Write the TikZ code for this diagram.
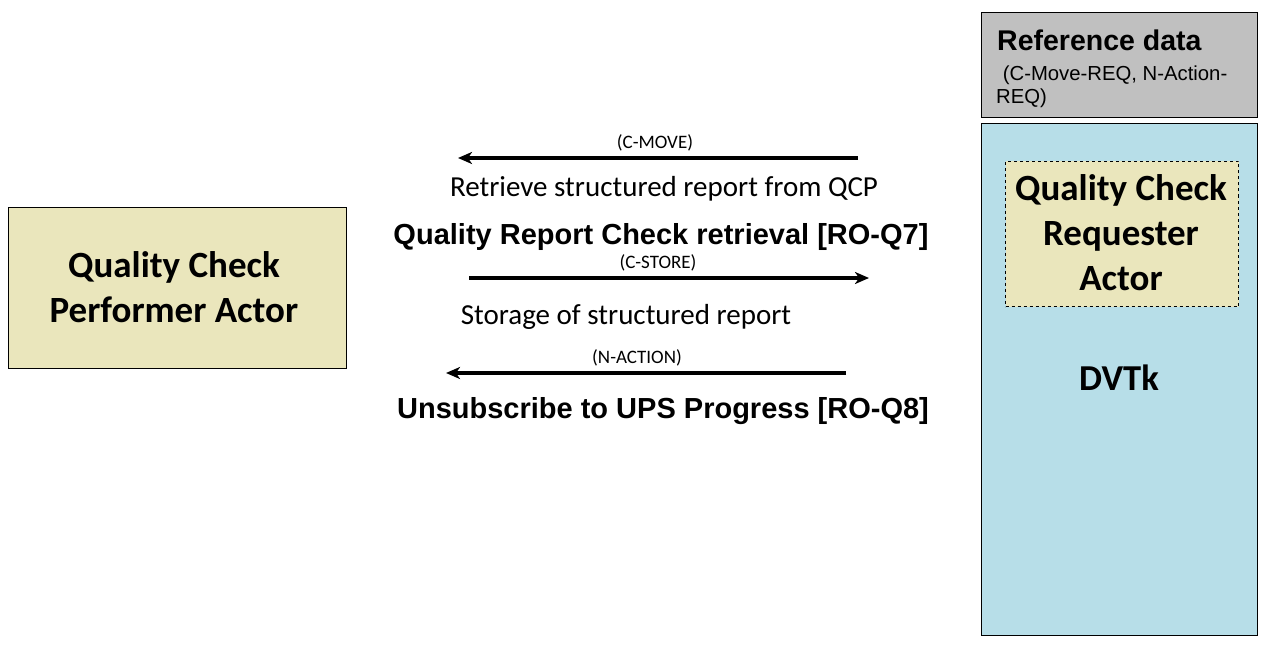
\documentclass[tikz,border=0pt]{standalone}
\usepackage{fontspec}
\setmainfont{Carlito}
\newfontfamily\arialf{Liberation Sans}
\usetikzlibrary{arrows.meta}
\definecolor{tanfill}{HTML}{EAE6BC}
\definecolor{grayfill}{HTML}{C0C0C0}
\definecolor{bluefill}{HTML}{B7DEE8}
\tikzset{
  actor/.style={draw=black, line width=1pt, fill=tanfill, align=center, inner sep=0pt},
  actortext/.style={font=\bfseries\fontsize{37}{45}\selectfont, align=center},
  msg/.style={line width=3.5pt, -{Stealth[length=14pt,width=12pt,inset=4pt]}},
  small/.style={font=\fontsize{19}{22}\selectfont},
  desc/.style={font=\fontsize{29}{32}\selectfont},
  title/.style={font=\arialf\bfseries\fontsize{29}{32}\selectfont},
}
\begin{document}
\begin{tikzpicture}[x=1pt,y=-1pt]
\useasboundingbox (0,0) rectangle (1268,647);
% right side
\node[draw=black, line width=1pt, fill=bluefill, minimum width=276pt, minimum height=512pt, inner sep=0pt, anchor=north west] (dvtk) at (981,123) {};
\node[draw=black, line width=1pt, fill=grayfill, minimum width=276pt, minimum height=105pt, inner sep=0pt, anchor=north west] (ref) at (981,12) {};
\node[anchor=west, inner sep=0pt, font=\arialf\bfseries\fontsize{28.5}{32}\selectfont] (reft) at (997,40) {Reference data};
\node[anchor=west, inner sep=0pt, font=\arialf\fontsize{20.3}{23}\selectfont] (refs1) at (997,75) {\ (C-Move-REQ, N-Action-};
\node[anchor=west, inner sep=0pt, font=\arialf\fontsize{20.3}{23}\selectfont] (refs2) at (996,98) {REQ)};
\node[actor, dashed, minimum width=233pt, minimum height=145pt, anchor=north west] (qcr) at (1005,161) {};
\node[actortext] (qcrt) at (1121,233) {Quality Check\\Requester\\Actor};
\node[font=\bfseries\fontsize{36.5}{40}\selectfont] (dvtkt) at (1119,378) {DVTk};
% left actor
\node[actor, minimum width=338pt, minimum height=161pt, anchor=north west] (qcp) at (8,207) {};
\node[actortext] (qcpt) at (174,287) {Quality Check\\Performer Actor};
% messages
\coordinate (a1s) at (858,158); \coordinate (a1e) at (458,158);
\coordinate (a2s) at (469,278); \coordinate (a2e) at (869,278);
\coordinate (a3s) at (846,373); \coordinate (a3e) at (446,373);
\draw[msg] (a1s) -- (a1e);
\draw[msg] (a2s) -- (a2e);
\draw[msg] (a3s) -- (a3e);
\node[small] (l1) at (655,143) {(C-MOVE)};
\node[desc] (d1) at (664,189) {Retrieve structured report from QCP};
\node[title] (t1) at (661,237) {Quality Report Check retrieval [RO-Q7]};
\node[small] (l2) at (658,263) {(C-STORE)};
\node[desc] (d2) at (626,317) {Storage of structured report};
\node[small] (l3) at (637,358) {(N-ACTION)};
\node[title] (t3) at (663,411) {Unsubscribe to UPS Progress [RO-Q8]};
\end{tikzpicture}
\end{document}
